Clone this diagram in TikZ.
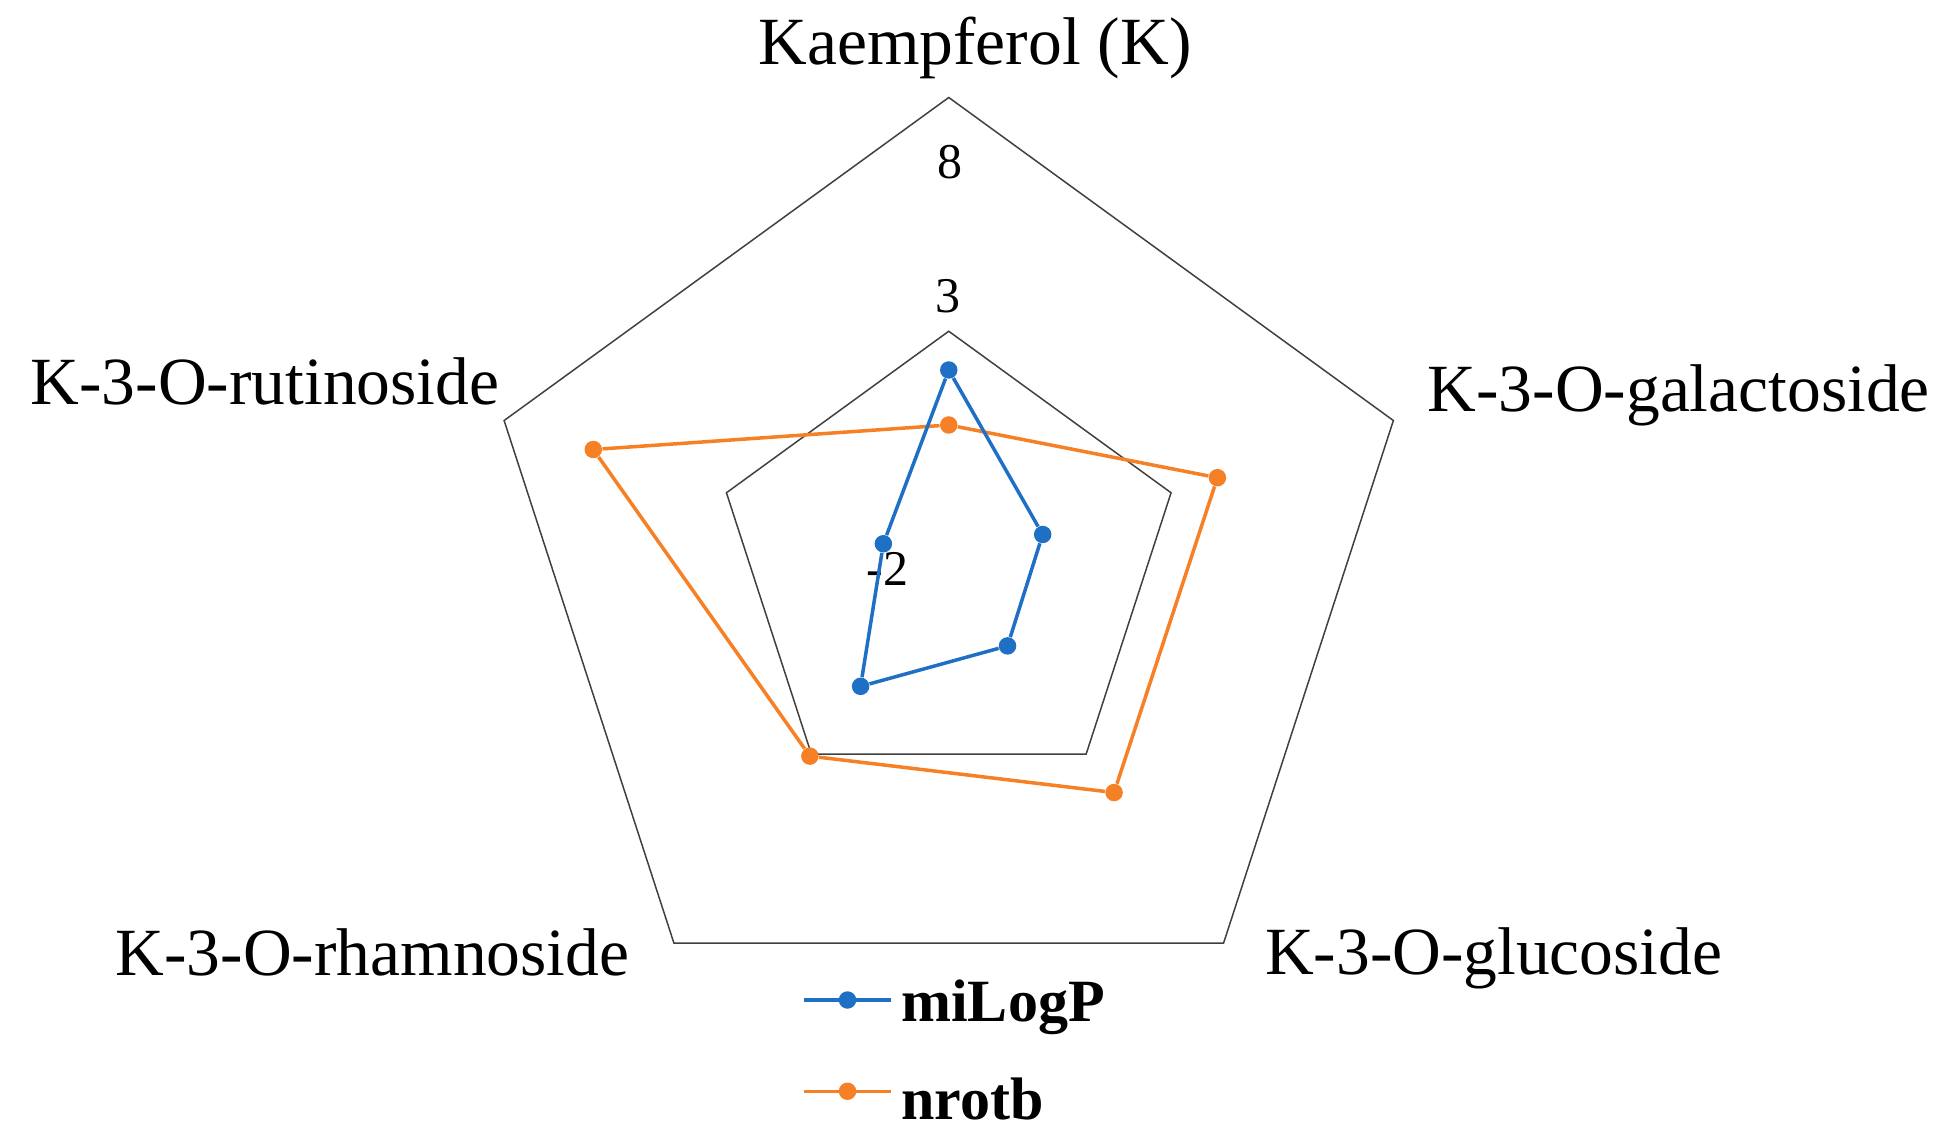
\documentclass[tikz,border=0pt]{standalone}
\usepackage{fontspec}
\setmainfont{Liberation Serif}
\usetikzlibrary{calc}
\definecolor{cblue}{HTML}{1F6FC5}
\definecolor{corange}{HTML}{F58025}
\begin{document}
\begin{tikzpicture}[x=0.5pt,y=0.5pt,
  grid/.style={draw=black!75,line width=0.6pt},
  ser/.style={line width=1.4pt},
  dot/.style={circle,inner sep=0pt,minimum size=7pt},
  lab/.style={font=\fontsize{27}{30}\selectfont},
  tick/.style={font=\fontsize{20}{23}\selectfont}]
\useasboundingbox (0,0) rectangle (1560,-913.6);
\coordinate (O) at (759,-452);
\draw[grid] ($(O)+(90:374)$) foreach \a in {18,-54,-126,162}{-- ($(O)+(\a:374)$)} -- cycle;
\draw[grid] ($(O)+(90:187)$) foreach \a in {18,-54,-126,162}{-- ($(O)+(\a:187)$)} -- cycle;
\node[tick] (t8) at (760,-130) {8};
\node[tick] (t3) at (758,-237) {3};
\node[tick] (t2) at (710,-455) {-2};
\node[lab] (l1) at (780,-38) {Kaempferol (K)};
\node[lab] (l2) at (1343,-316) {K-3-O-galactoside};
\node[lab] (l3) at (1195,-767) {K-3-O-glucoside};
\node[lab] (l4) at (298,-762) {K-3-O-rhamnoside};
\node[lab] (l5) at (212,-305) {K-3-O-rutinoside};
% nrotb
\foreach \a/\r [count=\i] in {90/112,18/226,-54/225,-126/189,162/299}
  \node[dot,fill=corange] (n\i) at ($(O)+(\a:\r)$) {};
\draw[ser,corange] (n1)--(n2)--(n3)--(n4)--(n5)--(n1);
% miLogP
\foreach \a/\r [count=\i] in {90/156,18/79,-54/80,-126/120,162/55}
  \node[dot,fill=cblue] (m\i) at ($(O)+(\a:\r)$) {};
\draw[ser,cblue] (m1)--(m2)--(m3)--(m4)--(m5)--(m1);
% legend
\coordinate (b1) at (643,-800); \coordinate (b2) at (713,-800);
\draw[ser,cblue] (b1)--(b2);
\node[dot,fill=cblue] (bd) at (678,-800) {};
\node[anchor=west,font=\bfseries\fontsize{24}{27}\selectfont] (bl) at (714,-806) {miLogP};
\coordinate (o1) at (643,-873); \coordinate (o2) at (713,-873);
\draw[ser,corange] (o1)--(o2);
\node[dot,fill=corange] (od) at (678,-873) {};
\node[anchor=west,font=\bfseries\fontsize{24}{27}\selectfont] (ol) at (714,-879) {nrotb};
\end{tikzpicture}
\end{document}
